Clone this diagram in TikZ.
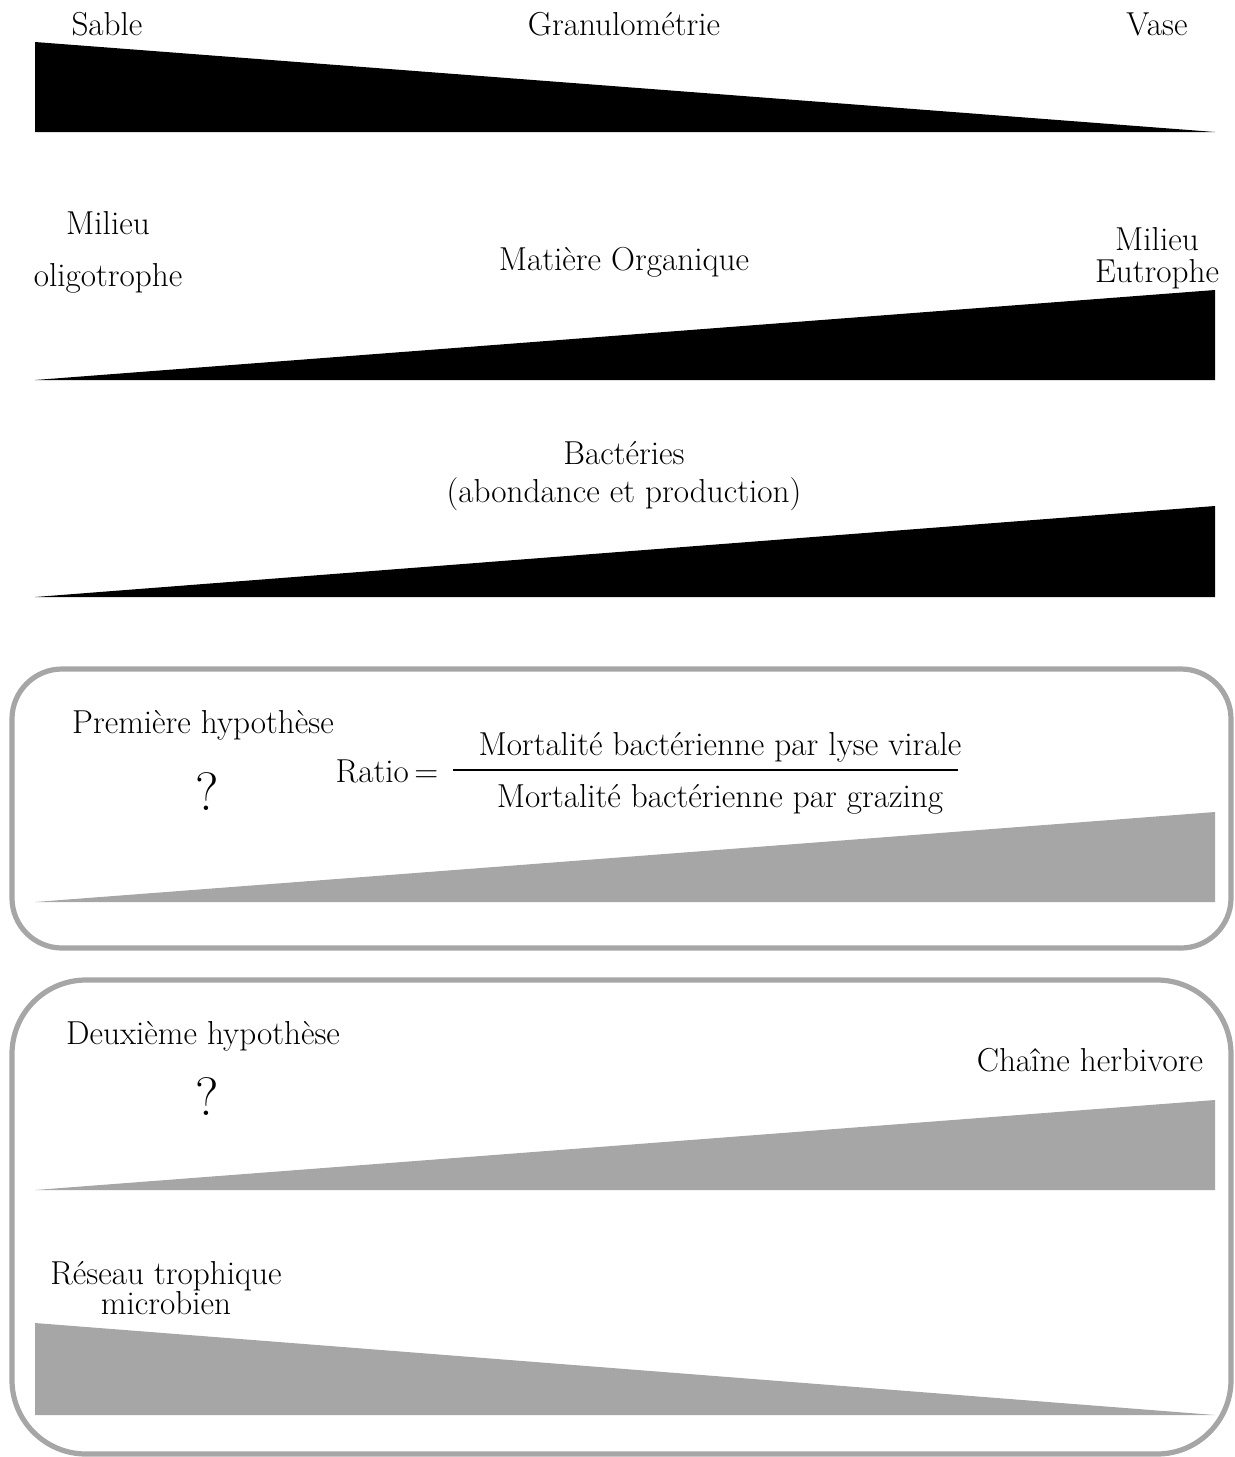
\documentclass[tikz,border=0pt]{standalone}
\usepackage{xcolor}
\colorlet{colorWedge}{black!35}
\colorlet{colorFrame}{black!35}
\usepackage{tikz}
\tikzset{
  lbl/.style={font=\fontsize{16.6}{19}\selectfont, align=center, inner sep=0pt, anchor=base},
  qmark/.style={font=\fontsize{27}{30}\selectfont, inner sep=0pt, anchor=base},
  hypframe/.style={draw=colorFrame, line width=2.6pt}
}

\begin{document}
\begin{tikzpicture}[x=0.5pt, y=-0.5pt]
\useasboundingbox (0,0) rectangle (1235,1457);
% gradients
\fill[black] (35,42) -- (1215,132) -- (35,132) -- cycle;
\fill[black] (35,380) -- (1215,290) -- (1215,380) -- cycle;
\fill[black] (35,597) -- (1215,506) -- (1215,597) -- cycle;
\node[lbl] (sable) at (107,35) {Sable};
\node[lbl] (granulo) at (624,35) {Granulométrie};
\node[lbl] (vase) at (1157,35) {Vase};
\node[lbl] (oligo) at (108,286) {Milieu\\[7pt]oligotrophe};
\node[lbl] (mo) at (624,270) {Matière Organique};
\node[lbl] (eutro) at (1157,282) {Milieu\\[-3pt]Eutrophe};
\node[lbl] (bact) at (624,502) {Bactéries\\(abondance et production)};
% first hypothesis
\draw[hypframe, rounded corners=25pt] (12,669) rectangle (1231,948);
\fill[colorWedge] (35,902) -- (1215,812) -- (1215,902) -- cycle;
\node[lbl] (hyp1) at (203,733) {Première hypothèse};
\node[qmark] (q1) at (207,810) {?};
\node[lbl] (ratio) at (387,782) {Ratio\,=};
\node[lbl] (num) at (720,755) {Mortalité bactérienne par lyse virale};
\node[lbl] (den) at (720,807) {Mortalité bactérienne par grazing};
\draw[line width=1pt] (453,770) -- (958,770);
% second hypothesis
\draw[hypframe, rounded corners=37pt] (12,980) rectangle (1231,1454);
\fill[colorWedge] (35,1190) -- (1215,1100) -- (1215,1190) -- cycle;
\fill[colorWedge] (35,1323) -- (1215,1415) -- (35,1415) -- cycle;
\node[lbl] (hyp2) at (203,1044) {Deuxième hypothèse};
\node[qmark] (q2) at (207,1115) {?};
\node[lbl] (herb) at (1090,1071) {Chaîne herbivore};
\node[lbl] (micro) at (166,1314) {Réseau trophique\\[-4pt]microbien};
\end{tikzpicture}
\end{document}
